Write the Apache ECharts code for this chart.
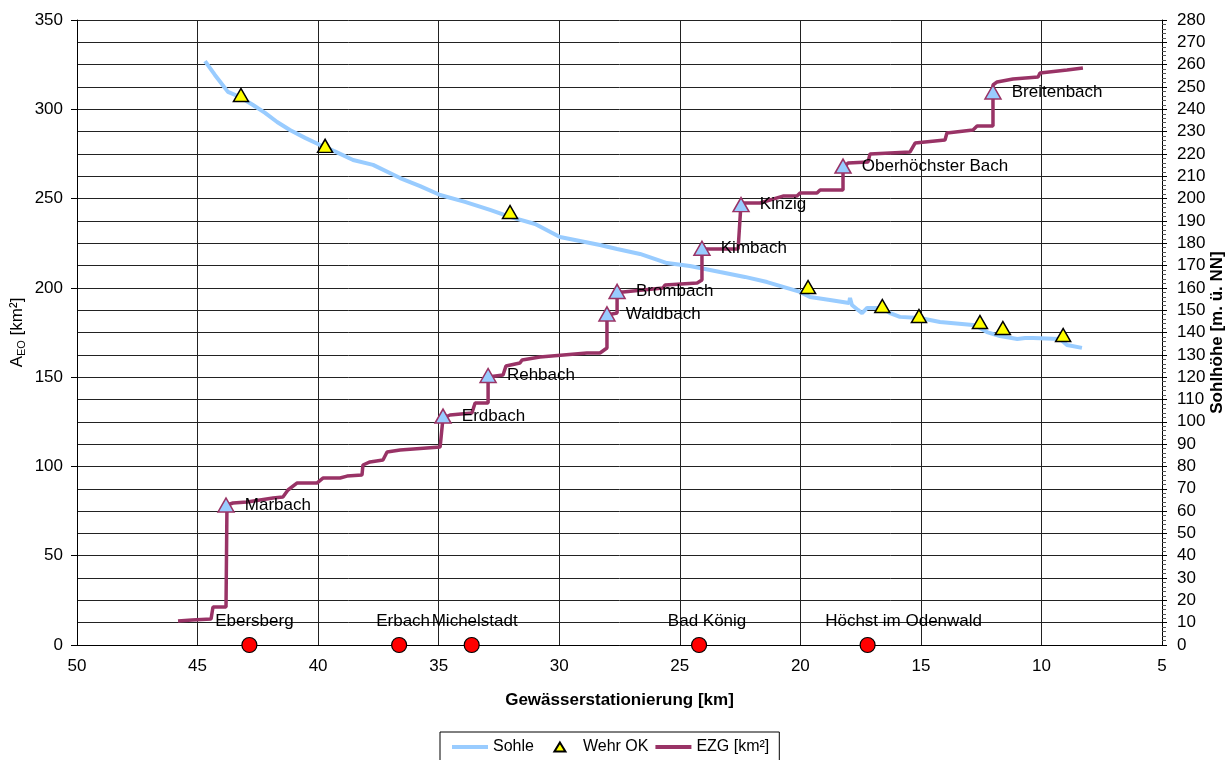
<!DOCTYPE html>
<html>
<head>
<meta charset="utf-8">
<script src="https://cdn.jsdelivr.net/npm/echarts@6/dist/echarts.min.js"></script>
<style>
html,body{margin:0;padding:0;background:#fff;}
#chart{width:1227px;height:760px;}
</style>
</head>
<body>
<div id="chart"></div>
<script>
// ---------- DATA ----------
const xTicks = [50, 45, 40, 35, 30, 25, 20, 15, 10, 5];

// Sohle (bed level, m ü. NN) – right axis
const sohleKm = [44.69,44.28,43.74,43.24,42.7,42.2,41.7,41.17,40.54,39.92,39.26,38.55,37.72,36.6,35.77,34.94,33.91,32.87,32.04,31.0,29.97,29.14,28.31,27.6,26.65,25.53,24.58,23.33,22.3,21.38,20.01,19.6,18.77,17.98,17.94,17.86,17.61,17.44,17.23,16.6,16.28,15.87,15.04,14.21,12.84,12.55,12.26,11.72,11.0,10.68,10.35,9.23,8.94,8.32];
const sohleH  = [261.6,255.4,247.8,245.5,241.9,238.4,234.3,230.7,227.2,224.0,220.9,217.3,215.1,209.2,205.6,201.6,198.5,194.9,191.8,188.6,182.8,181.0,179.2,177.4,175.2,171.1,169.8,167.1,164.9,162.6,158.2,155.9,154.6,153.2,155.5,152.3,150.1,148.7,151.0,151.0,148.7,147.0,146.5,144.7,143.4,142.0,140.2,138.4,137.1,137.5,137.5,137.1,134.4,133.1];

// Wehr OK (weir crest) – right axis
const wehrKm = [43.2, 39.71, 32.04, 19.68, 16.6, 15.08, 12.55, 11.6, 9.1];
const wehrH  = [246.4, 223.6, 194.0, 160.4, 151.9, 147.4, 144.7, 142.0, 138.9];

// EZG (catchment area, km²) – left axis
const ezgKm = [45.81,45.23,44.44,44.36,43.82,43.78,43.53,42.95,41.87,41.46,41.25,40.88,40.05,39.8,39.09,38.8,38.18,38.14,37.85,37.31,37.14,36.6,34.94,34.82,34.53,33.62,33.49,32.95,32.95,32.33,32.21,31.63,31.54,30.8,28.85,28.31,28.02,28.02,27.6,27.6,27.35,25.7,25.61,24.28,24.08,24.08,22.58,22.46,21.67,20.72,20.14,20.01,19.31,19.18,18.23,18.23,18.02,17.19,17.11,15.45,15.24,14.0,13.92,12.84,12.67,12.01,12.01,11.84,11.18,10.14,10.06,8.94,8.28];
const ezgA  = [13.4,14.0,14.6,21.3,21.3,78.4,79.5,80.1,82.3,82.9,86.8,90.7,90.7,93.5,93.5,94.6,95.2,100.8,102.5,103.6,108.1,109.2,110.9,127.1,128.8,129.9,135.5,135.5,150.1,151.2,156.2,157.9,159.6,161.3,163.5,163.5,166.3,184.8,185.9,197.7,197.7,199.9,201.6,202.7,204.4,221.8,221.8,247.5,247.5,251.4,251.4,253.1,253.1,254.8,254.8,267.1,269.9,270.5,275.0,276.1,281.1,282.8,286.7,288.4,290.6,290.6,313.6,315.3,317.0,318.1,320.3,322.0,323.1];

// Tributaries (on EZG line) – left axis
const tribNames = ['Marbach','Erdbach','Rehbach','Waldbach','Brombach','Kimbach','Kinzig','Oberhöchster Bach','Breitenbach'];
const tribKm    = [43.82, 34.82, 32.95, 28.02, 27.6, 24.08, 22.46, 18.23, 12.01];
const tribA     = [78.4, 128.2, 150.9, 185.4, 198.0, 222.2, 246.6, 268.2, 309.7];

// Towns (at zero) – left axis
const townNames = ['Ebersberg','Erbach','Michelstadt','Bad König','Höchst im Odenwald'];
const townKm    = [42.85, 36.64, 33.63, 24.2, 17.21];
const townA     = [0, 0, 0, 0, 0];

// ---------- CHART ----------
const FONT = 'Arial, "Liberation Sans", sans-serif';
const zip = (a, b) => a.map((v, i) => [v, b[i]]);
const townLabelDx = [5, 4, 3, 8, 36];
const LINE_ICON = 'path://M0,0L36,0L36,4L0,4Z';
const TRI_ICON = 'path://M0,9L0,9M36,9L36,9M18,0L23.5,9L12.5,9Z';

const chart = echarts.init(document.getElementById('chart'), null, {renderer: 'canvas'});
const option = {
  animation: false,
  backgroundColor: '#fff',
  textStyle: {fontFamily: FONT, color: '#000'},
  grid: {left: 77, right: 65, top: 20, bottom: 115, containLabel: false, outerBoundsMode: 'none'},
  legend: {
    data: [
      {name: 'Sohle', icon: LINE_ICON},
      {name: 'Wehr OK', icon: TRI_ICON},
      {name: 'EZG [km²]', icon: LINE_ICON}
    ],
    left: 440, top: 732,
    padding: [7, 10, 9, 12],
    itemGap: 7,
    itemWidth: 36, itemHeight: 10,
    borderColor: '#000', borderWidth: 1,
    textStyle: {fontFamily: FONT, fontSize: 16, color: '#000'}
  },
  xAxis: {
    type: 'value', min: 5, max: 50, interval: 5, inverse: true,
    name: 'Gewässerstationierung [km]', nameLocation: 'middle', nameGap: 47,
    nameMoveOverlap: false,
    nameTextStyle: {fontFamily: FONT, fontSize: 17, fontWeight: 'bold', color: '#000'},
    axisLine: {show: true, onZero: false, lineStyle: {color: '#000', width: 1}},
    axisTick: {show: false},
    axisLabel: {fontFamily: FONT, fontSize: 17, color: '#000', margin: 13,
      formatter: v => xTicks.includes(v) ? String(v) : ''},
    splitLine: {show: true, lineStyle: {color: '#222', width: 1}}
  },
  yAxis: [
    {
      type: 'value', min: 0, max: 350, interval: 50, position: 'left',
      name: '{a|A}{s|EO}{a| [km²]}', nameLocation: 'middle', nameGap: 50, nameRotate: 90,
      nameMoveOverlap: false,
      nameTextStyle: {fontFamily: FONT, fontSize: 17, color: '#000',
        rich: {
          a: {fontFamily: FONT, fontSize: 17, color: '#000', lineHeight: 20},
          s: {fontFamily: FONT, fontSize: 11, color: '#000', verticalAlign: 'bottom', lineHeight: 14}
        }},
      axisLine: {show: true, onZero: false, lineStyle: {color: '#000', width: 1}},
      axisTick: {show: true, inside: false, length: 6, lineStyle: {color: '#000'}},
      axisLabel: {fontFamily: FONT, fontSize: 17, color: '#000', margin: 14},
      splitLine: {show: false}
    },
    {
      type: 'value', min: 0, max: 280, interval: 10, position: 'right',
      name: 'Sohlhöhe [m. ü. NN]', nameLocation: 'middle', nameGap: 47, nameRotate: 90,
      nameMoveOverlap: false,
      nameTextStyle: {fontFamily: FONT, fontSize: 17, fontWeight: 'bold', color: '#000'},
      axisLine: {show: true, onZero: false, lineStyle: {color: '#000', width: 1}},
      axisTick: {show: true, length: 5, lineStyle: {color: '#000'}},
      minorTick: {show: true, splitNumber: 5, length: 4, lineStyle: {color: '#555'}},
      axisLabel: {fontFamily: FONT, fontSize: 17, color: '#000', margin: 15},
      splitLine: {show: true, lineStyle: {color: '#222', width: 1}}
    }
  ],
  series: [
    {
      name: 'Sohle', type: 'line', yAxisIndex: 1, z: 2,
      data: zip(sohleKm, sohleH),
      symbol: 'none', showSymbol: false,
      lineStyle: {color: '#99CCFF', width: 4},
      itemStyle: {color: '#99CCFF'}
    },
    {
      name: 'EZG [km²]', type: 'line', yAxisIndex: 0, z: 3,
      data: zip(ezgKm, ezgA),
      symbol: 'none', showSymbol: false,
      lineStyle: {color: '#993366', width: 3.5},
      itemStyle: {color: '#993366'}
    },
    {
      name: 'Wehr OK', type: 'scatter', yAxisIndex: 1, z: 5,
      data: zip(wehrKm, wehrH),
      symbol: 'triangle', symbolSize: [15, 13],
      itemStyle: {color: '#FFFF00', borderColor: '#000', borderWidth: 1.5, opacity: 1}
    },
    {
      name: 'Zuflüsse', type: 'scatter', yAxisIndex: 0, z: 6,
      data: tribKm.map((k, i) => ({name: tribNames[i], value: [k, tribA[i]]})),
      symbol: 'triangle', symbolSize: [16, 14],
      itemStyle: {color: '#99CCFF', borderColor: '#993366', borderWidth: 1.5, opacity: 1},
      label: {show: true, position: 'right', distance: 10, formatter: p => p.name,
        fontFamily: FONT, fontSize: 17, color: '#000'}
    },
    {
      name: 'Orte', type: 'scatter', yAxisIndex: 0, z: 7,
      data: townKm.map((k, i) => ({name: townNames[i], value: [k, townA[i]],
        label: {offset: [townLabelDx[i], 0]}})),
      symbol: 'circle', symbolSize: 15,
      itemStyle: {color: '#FF0000', borderColor: '#000', borderWidth: 1.2, opacity: 1},
      label: {show: true, position: 'top', distance: 7, formatter: p => p.name,
        fontFamily: FONT, fontSize: 17, color: '#000'}
    }
  ]
};
chart.setOption(option);
</script>
</body>
</html>
